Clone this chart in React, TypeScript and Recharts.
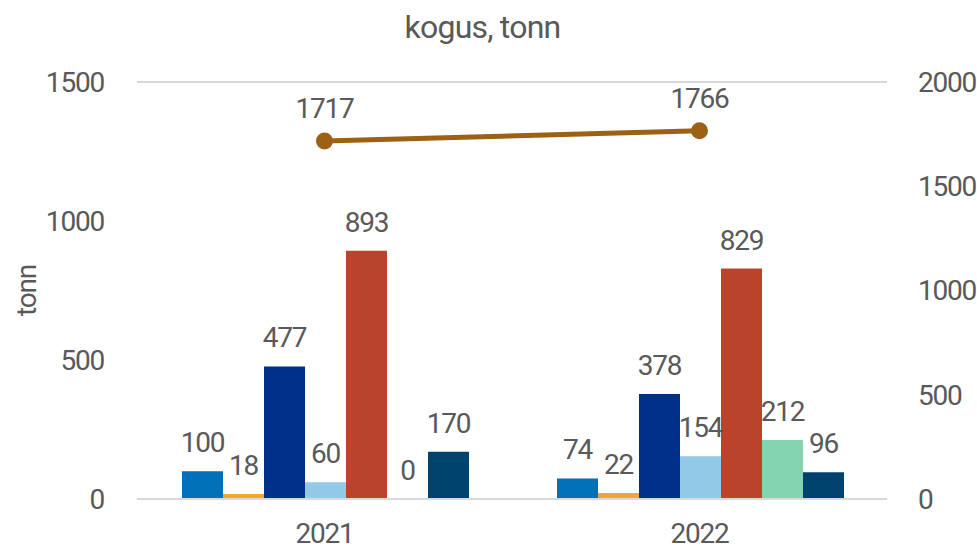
import React from 'react';
import { ComposedChart, Bar, Line, XAxis, YAxis, CartesianGrid, LabelList } from 'recharts';

const categories = ['2021', '2022'];
const s1 = [100, 74];
const s2 = [18, 22];
const s3 = [477, 378];
const s4 = [60, 154];
const s5 = [893, 829];
const s6 = [0, 212];
const s7 = [170, 96];
const total = [1717, 1766];
const leftTicks = [0, 500, 1000, 1500];
const rightTicks = [0, 500, 1000, 1500, 2000];

const colors = ['#0070B8', '#F2A72C', '#003087', '#92C9E6', '#BA432B', '#84D4B0', '#00426E'];
const lineColor = '#9C6114';
const textColor = '#595959';
const font = 'Roboto';

const series = [s1, s2, s3, s4, s5, s6, s7];
const data = categories.map((c, i) => {
  const row: any = { cat: c, total: total[i] };
  series.forEach((s, k) => (row['s' + k] = s[i]));
  return row;
});

const textStyle = { fill: textColor, fontSize: 28, fontFamily: font, letterSpacing: -1.2 };
const tickStyle = { ...textStyle };

const barLabel = (props: any) => {
  const { x, y, width, height, value } = props;
  const top = Math.min(Number(y), Number(y) + Number(height || 0));
  return (
    <text x={Number(x) + Number(width) / 2} y={top - 19} textAnchor="middle" style={textStyle}>
      {value}
    </text>
  );
};

const lineLabel = (props: any) => {
  const { x, y, value } = props;
  return (
    <text x={Number(x)} y={Number(y) - 23} textAnchor="middle" style={textStyle}>
      {value}
    </text>
  );
};

const zeroMin = (value: any) => (Number(value) === 0 ? 0.01 : 0);

export default function App() {
  return (
    <div style={{ position: 'absolute', left: 0, top: 0, width: 977, height: 549, background: '#fff' }}>
      <div
        style={{
          position: 'absolute',
          top: 9,
          left: 0,
          width: 965,
          textAlign: 'center',
          fontFamily: font,
          fontSize: 32,
          letterSpacing: -0.8,
          color: textColor,
          lineHeight: '36px',
        }}
      >
        kogus, tonn
      </div>
      <ComposedChart
        width={977}
        height={549}
        data={data}
        margin={{ top: 82, right: 10, bottom: 0, left: 10 }}
        barCategoryGap="12%"
        barGap={0}
      >
        <CartesianGrid vertical={false} stroke="#d9d9d9" strokeWidth={2} />
        <XAxis
          dataKey="cat"
          axisLine={{ stroke: '#d9d9d9', strokeWidth: 2 }}
          tickLine={false}
          tick={tickStyle}
          tickMargin={18}
          height={50}
        />
        <YAxis
          yAxisId="left"
          domain={[0, 1500]}
          ticks={leftTicks}
          axisLine={false}
          tickLine={false}
          tick={tickStyle}
          tickMargin={27}
          width={127}
          label={{ value: 'tonn', angle: -90, position: 'insideLeft', offset: 16, style: { ...textStyle, textAnchor: 'middle' } }}
        />
        <YAxis
          yAxisId="right"
          orientation="right"
          domain={[0, 2000]}
          ticks={rightTicks}
          axisLine={false}
          tickLine={false}
          tick={tickStyle}
          tickMargin={25}
          width={80}
        />
        {series.map((_, k) => (
          <Bar key={k} yAxisId="left" dataKey={'s' + k} fill={colors[k]} minPointSize={zeroMin} isAnimationActive={false}>
            <LabelList dataKey={'s' + k} content={barLabel} />
          </Bar>
        ))}
        <Line
          yAxisId="right"
          dataKey="total"
          stroke={lineColor}
          strokeWidth={5}
          dot={{ r: 6, fill: lineColor, stroke: lineColor }}
          isAnimationActive={false}
        >
          <LabelList dataKey="total" content={lineLabel} />
        </Line>
      </ComposedChart>
    </div>
  );
}
